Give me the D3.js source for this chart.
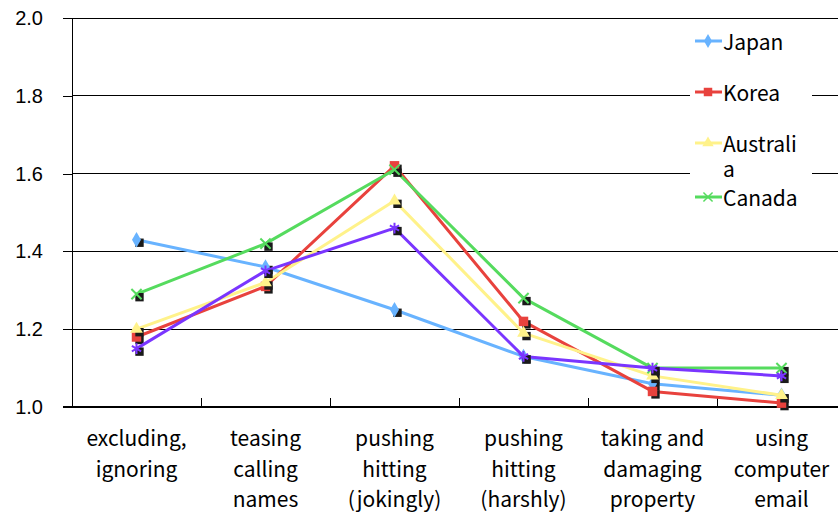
<!DOCTYPE html>
<html>
<head>
<meta charset="utf-8">
<script src="https://cdn.jsdelivr.net/npm/d3@7"></script>
<style>
  html, body { margin: 0; padding: 0; background: #fff; }
  svg { display: block; }
</style>
</head>
<body>
<svg id="chart" width="838" height="514"></svg>
<script>
// Bullying types (each label split into display lines)
const categories = [
  ["excluding,", "ignoring"],
  ["teasing", "calling", "names"],
  ["pushing", "hitting", "(jokingly)"],
  ["pushing", "hitting", "(harshly)"],
  ["taking and", "damaging", "property"],
  ["using", "computer", "email"]
];
const categoryKeys = categories.map(c => c.join(" "));

// Mean scores by country
const japan     = [1.43, 1.36, 1.25, 1.13, 1.06, 1.03];
const korea     = [1.18, 1.31, 1.62, 1.22, 1.04, 1.01];
const australia = [1.20, 1.32, 1.53, 1.19, 1.08, 1.03];
const canada    = [1.29, 1.42, 1.61, 1.28, 1.10, 1.10];
const other     = [1.15, 1.35, 1.46, 1.13, 1.10, 1.08];

const yTicks = [1.0, 1.2, 1.4, 1.6, 1.8, 2.0];

const series = [
  { name: "Japan",     values: japan,     color: "#68B3FF", symbol: d3.symbolDiamond, size: 70, legend: true },
  { name: "Korea",     values: korea,     color: "#E8423D", symbol: d3.symbolSquare,  size: 90, legend: true },
  { name: "Australia", values: australia, color: "#FFF28A", symbol: d3.symbolTriangle, size: 70, legend: true },
  { name: "Canada",    values: canada,    color: "#55DB5E", symbol: d3.symbolX,       size: 70, legend: true },
  { name: "Other",     values: other,     color: "#7A35FF", symbol: d3.symbolAsterisk, size: 80, legend: false }
];

const svg = d3.select("#chart");
const plotLeft = 72, plotRight = 846, plotTop = 18, plotBottom = 407;
const labelFont = "'Noto Sans CJK JP', 'Noto Sans', sans-serif";

const x = d3.scaleBand().domain(categoryKeys).range([plotLeft, plotRight]);
const y = d3.scaleLinear().domain([1.0, 2.0]).range([plotBottom, plotTop]);

// horizontal gridlines
svg.append("g")
  .selectAll("line")
  .data(yTicks.filter(v => v > 1.0))
  .join("line")
  .attr("x1", plotLeft).attr("x2", plotRight)
  .attr("y1", d => y(d)).attr("y2", d => y(d))
  .attr("stroke", "#000").attr("stroke-width", 1)
  .attr("shape-rendering", "crispEdges");

// y axis
const yAxis = svg.append("g")
  .attr("transform", `translate(${plotLeft},0)`)
  .call(d3.axisLeft(y).tickValues(yTicks).tickFormat(d3.format(".1f")).tickSize(9).tickPadding(20));
yAxis.select(".domain").attr("stroke", "#000").attr("stroke-width", 1.5).attr("shape-rendering", "crispEdges");
yAxis.selectAll(".tick line").attr("stroke", "#000").attr("shape-rendering", "crispEdges");
yAxis.selectAll(".tick text")
  .attr("font-family", "Liberation Sans, Arial, sans-serif")
  .attr("font-size", 20).attr("fill", "#000");

// x axis with ticks between categories
const xAxis = svg.append("g")
  .attr("transform", `translate(0,${plotBottom})`);
xAxis.append("line")
  .attr("x1", plotLeft - 9).attr("x2", plotRight)
  .attr("y1", 0).attr("y2", 0)
  .attr("stroke", "#000").attr("stroke-width", 1.5)
  .attr("shape-rendering", "crispEdges");
xAxis.selectAll("line.tk")
  .data(categoryKeys)
  .join("line")
  .attr("class", "tk")
  .attr("x1", d => x(d) + x.bandwidth()).attr("x2", d => x(d) + x.bandwidth())
  .attr("y1", 0).attr("y2", -9)
  .attr("stroke", "#000").attr("shape-rendering", "crispEdges");

const labels = svg.append("g")
  .attr("font-family", labelFont)
  .attr("font-size", 21)
  .attr("fill", "#000")
  .attr("text-anchor", "middle");
categories.forEach((lines, i) => {
  const cx = x(categoryKeys[i]) + x.bandwidth() / 2;
  const t = labels.append("text");
  lines.forEach((ln, j) => {
    t.append("tspan").attr("x", cx).attr("y", 446 + j * 30.5).text(ln);
  });
});

// series lines and markers
const line = d3.line()
  .x((d, i) => x(categoryKeys[i]) + x.bandwidth() / 2)
  .y(d => y(d));

const plot = svg.append("g");
series.forEach(s => {
  const g = plot.append("g");
  g.append("path")
    .datum(s.values)
    .attr("d", line)
    .attr("fill", "none")
    .attr("stroke", s.color)
    .attr("stroke-width", 3)
    .attr("stroke-linejoin", "round");
  const sym = d3.symbol().type(s.symbol).size(s.size);
  const isLine = s.symbol === d3.symbolX || s.symbol === d3.symbolAsterisk;
  // drop shadow
  g.selectAll("path.shadow")
    .data(s.values)
    .join("path")
    .attr("class", "shadow")
    .attr("d", d3.symbol().type(d3.symbolSquare).size(70)())
    .attr("transform", (d, i) => `translate(${x(categoryKeys[i]) + x.bandwidth() / 2 + 3},${y(d) + 3})`)
    .attr("fill", "#1a1a1a");
  g.selectAll("path.mark")
    .data(s.values)
    .join("path")
    .attr("class", "mark")
    .attr("d", sym())
    .attr("transform", (d, i) => `translate(${x(categoryKeys[i]) + x.bandwidth() / 2},${y(d)})`)
    .attr("fill", isLine ? "none" : s.color)
    .attr("stroke", isLine ? s.color : "none")
    .attr("stroke-width", isLine ? 2 : 0);
});

// legend
const lg = svg.append("g");
lg.append("rect")
  .attr("x", 690).attr("y", 22).attr("width", 122).attr("height", 195)
  .attr("fill", "#fff");
const legendItems = series.filter(s => s.legend);
const legendRows = [41, 92, 143, 197];
legendItems.forEach((s, i) => {
  const ly = legendRows[i];
  const row = lg.append("g");
  row.append("line")
    .attr("x1", 695).attr("x2", 722).attr("y1", ly).attr("y2", ly)
    .attr("stroke", s.color).attr("stroke-width", 3);
  const isLine = s.symbol === d3.symbolX || s.symbol === d3.symbolAsterisk;
  row.append("path")
    .attr("d", d3.symbol().type(s.symbol).size(s.size * 0.8)())
    .attr("transform", `translate(708,${ly})`)
    .attr("fill", isLine ? "none" : s.color)
    .attr("stroke", isLine ? s.color : "none")
    .attr("stroke-width", isLine ? 1.5 : 0);
  const t = row.append("text")
    .attr("font-family", labelFont)
    .attr("font-size", 21)
    .attr("fill", "#000");
  if (s.name === "Australia") {
    t.append("tspan").attr("x", 723).attr("y", ly + 9).text("Australi");
    t.append("tspan").attr("x", 723).attr("y", ly + 34).text("a");
  } else {
    t.attr("x", 723).attr("y", ly + 9).text(s.name);
  }
});
</script>
</body>
</html>
